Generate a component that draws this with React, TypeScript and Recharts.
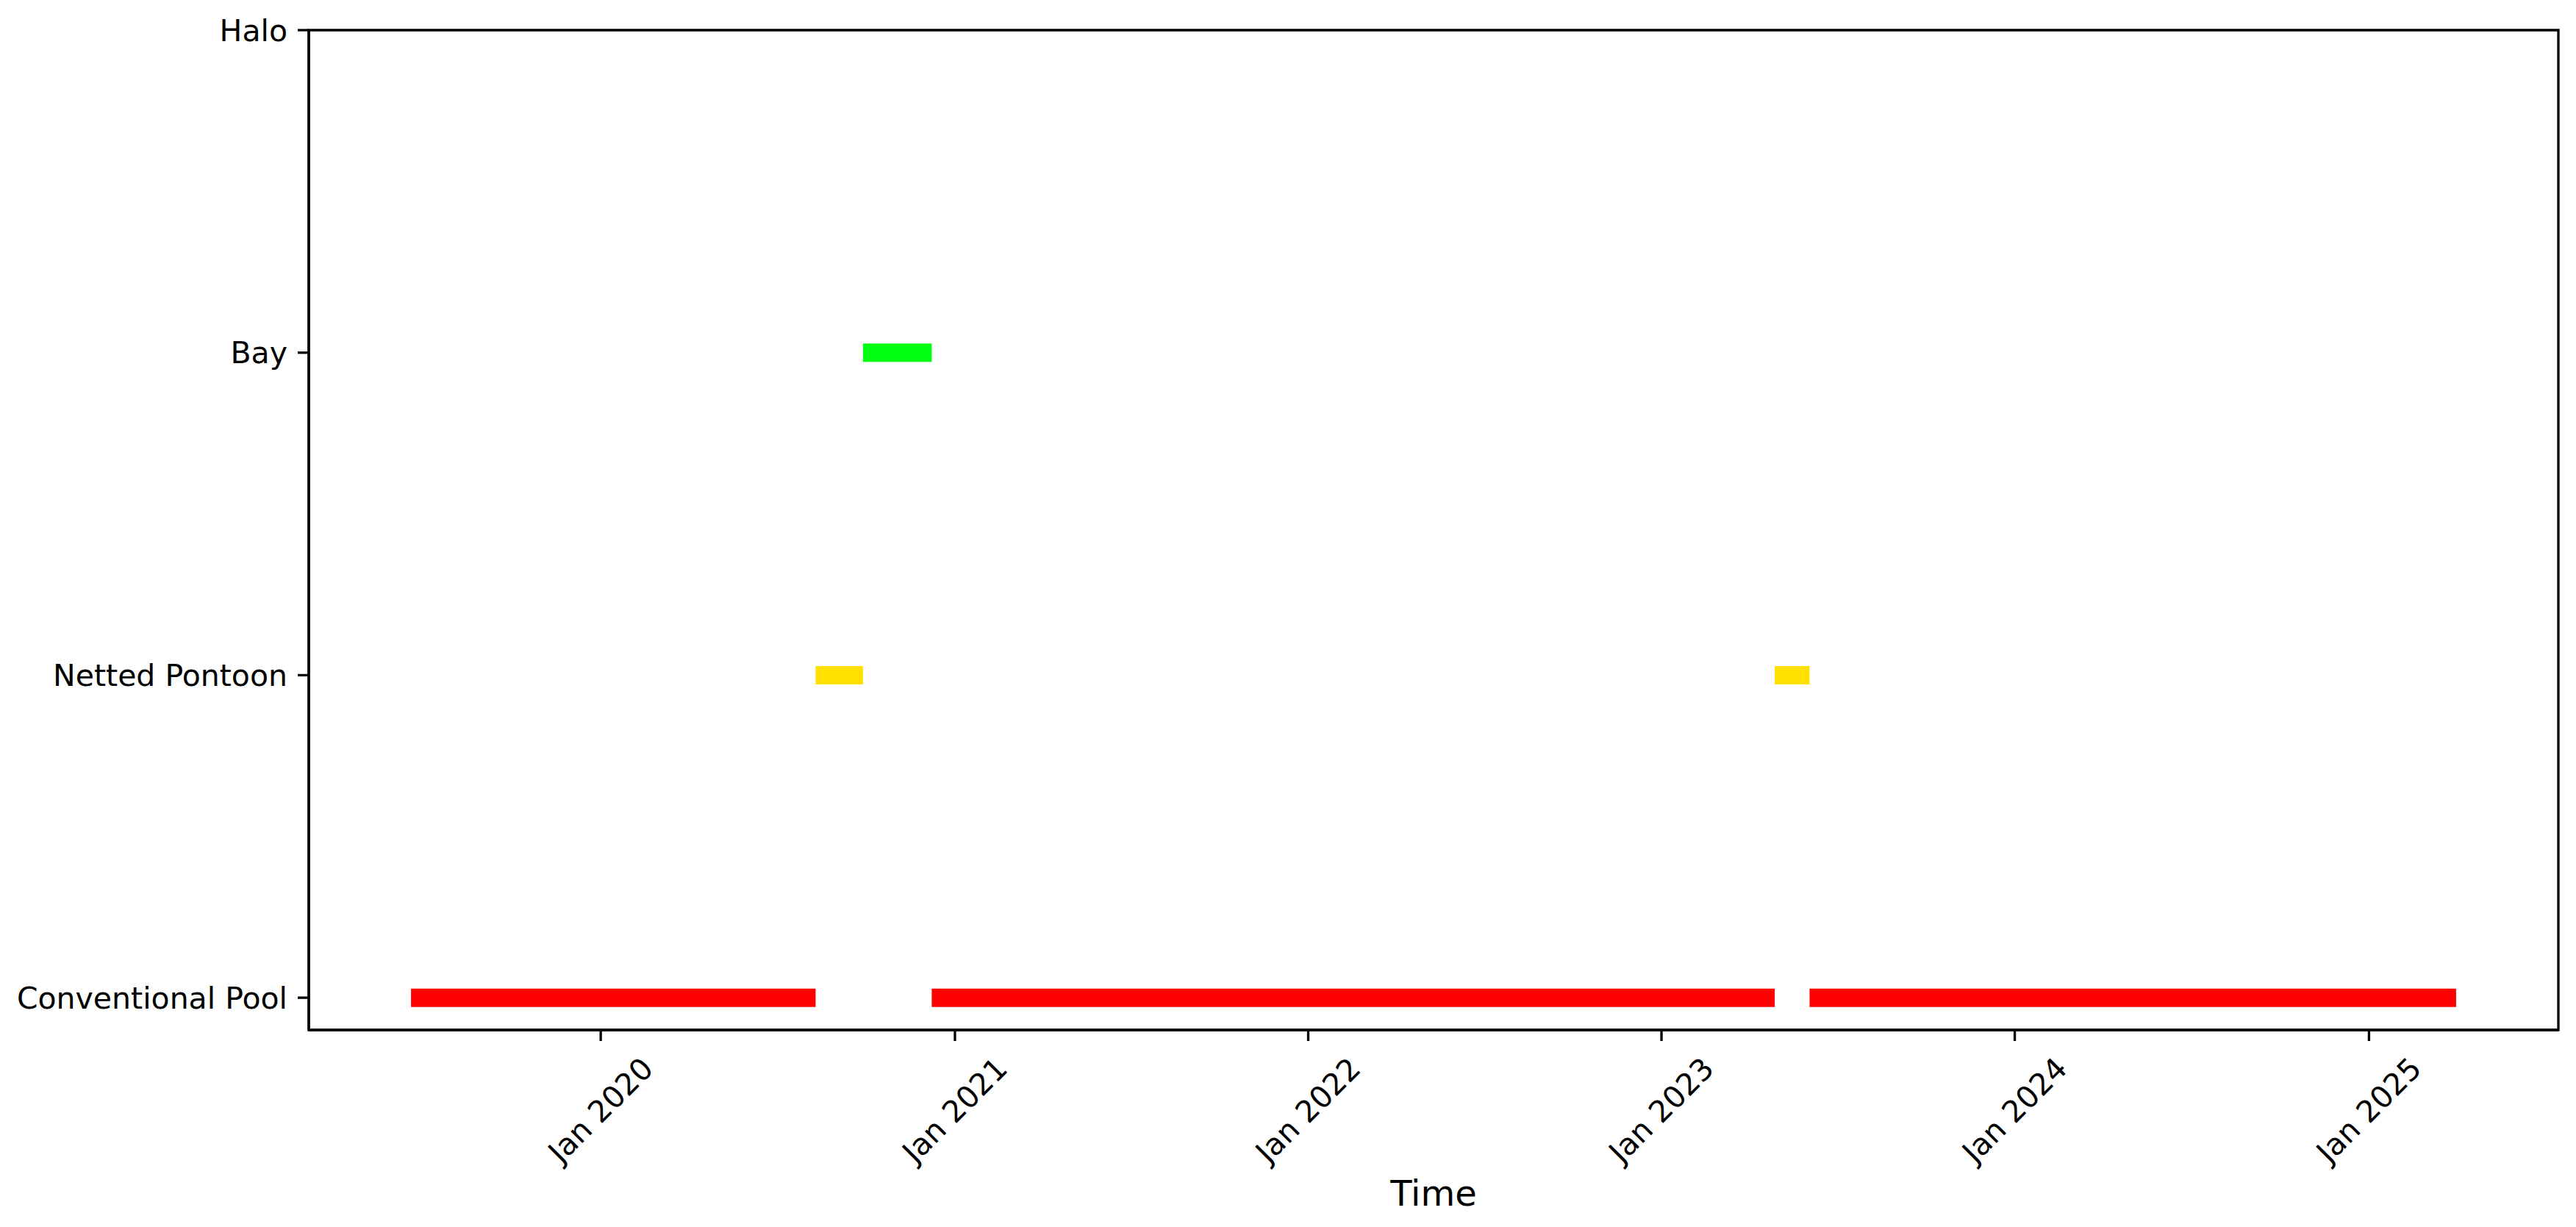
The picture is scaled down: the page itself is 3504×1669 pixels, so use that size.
import { ComposedChart, Line, XAxis, YAxis, ReferenceArea } from 'recharts';

const categories = ['Conventional Pool', 'Netted Pontoon', 'Bay', 'Halo'];

const segmentCategory = [
  'Conventional Pool',
  'Netted Pontoon',
  'Bay',
  'Conventional Pool',
  'Netted Pontoon',
  'Conventional Pool',
];
const segmentStart = ['2019-06-19', '2020-08-10', '2020-09-28', '2020-12-08', '2023-04-28', '2023-06-03'];
const segmentEnd = ['2020-08-10', '2020-09-28', '2020-12-08', '2023-04-28', '2023-06-03', '2025-04-01'];

const tickYears = [2020, 2021, 2022, 2023, 2024, 2025];

const categoryColor: Record<string, string> = {
  'Conventional Pool': '#ff0000',
  'Netted Pontoon': '#ffe000',
  Bay: '#00ff10',
  Halo: '#0000ff',
};

const FONT = '"DejaVu Sans", sans-serif';
const ts = (d: string) => Date.parse(d + 'T00:00:00Z');

const segments = segmentStart.map((s, i) => ({
  category: segmentCategory[i],
  data: [
    { t: ts(s), v: categories.indexOf(segmentCategory[i]) },
    { t: ts(segmentEnd[i]), v: categories.indexOf(segmentCategory[i]) },
  ],
}));

// matplotlib-style 5% margins around the data
const tMin = Math.min(...segmentStart.map(ts));
const tMax = Math.max(...segmentEnd.map(ts));
const pad = (tMax - tMin) * 0.05;
const xDomain: [number, number] = [tMin - pad, tMax + pad];
const xTicks = tickYears.map((y) => Date.UTC(y, 0, 1));

function DateTick({ x, y, payload }: any) {
  const year = new Date(payload.value).getUTCFullYear();
  const cy = y + 94;
  return (
    <text
      x={x}
      y={cy}
      transform={`rotate(-45 ${x} ${cy})`}
      textAnchor="middle"
      dominantBaseline="central"
      fontSize={41}
      fontFamily={FONT}
      fill="#000"
    >
      {`Jan ${year}`}
    </text>
  );
}

export default function App() {
  return (
    <div style={{ position: 'absolute', left: 0, top: 0, width: 3504, height: 1669, background: '#fff' }}>
      <ComposedChart width={3504} height={1669} margin={{ top: 41, right: 24, left: 0, bottom: 0 }}>
        <XAxis
          type="number"
          dataKey="t"
          domain={xDomain}
          ticks={xTicks}
          allowDataOverflow
          height={268}
          stroke="#000"
          strokeWidth={3.3}
          tickSize={15}
          tickMargin={0}
          tick={<DateTick />}
          label={{ value: 'Time', position: 'insideBottom', offset: 29, fontSize: 48, fill: '#000', fontFamily: FONT }}
        />
        <YAxis
          type="number"
          domain={[-0.1, 3]}
          ticks={[0, 1, 2, 3]}
          allowDataOverflow
          width={420}
          stroke="#000"
          strokeWidth={3.3}
          tickSize={15}
          tickMargin={14}
          tickFormatter={(v: number) => categories[v]}
          tick={{ fontSize: 41, fill: '#000', fontFamily: FONT }}
        />
        <ReferenceArea
          x1={xDomain[0]}
          x2={xDomain[1]}
          y1={-0.1}
          y2={3}
          fill="none"
          stroke="#000"
          strokeWidth={3.3}
          fillOpacity={0}
          ifOverflow="extendDomain"
        />
        {segments.map((seg, i) => (
          <Line
            key={i}
            data={seg.data}
            dataKey="v"
            type="linear"
            stroke={categoryColor[seg.category]}
            strokeWidth={25}
            strokeLinecap="butt"
            dot={false}
            activeDot={false}
            isAnimationActive={false}
          />
        ))}
      </ComposedChart>
    </div>
  );
}
